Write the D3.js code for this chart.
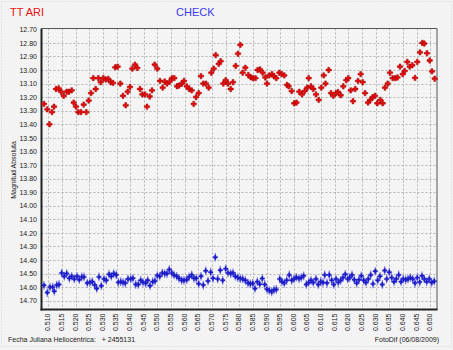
<!DOCTYPE html>
<html><head><meta charset="utf-8">
<script src="https://cdn.jsdelivr.net/npm/d3@7"></script>
<style>
html,body{margin:0;padding:0;background:#f3f3f3;}
svg{display:block;font-family:"Liberation Sans",Arial,sans-serif;}
</style></head><body>
<svg id="c" width="453" height="350"></svg>
<script>
// ---- data ----
const seriesNames = ["TT ARI", "CHECK"];
const yTicks = [12.70,12.80,12.90,13.00,13.10,13.20,13.30,13.40,13.50,13.60,13.70,13.80,13.90,14.00,14.10,14.20,14.30,14.40,14.50,14.60,14.70];
const xTicks = [0.510,0.515,0.520,0.525,0.530,0.535,0.540,0.545,0.550,0.555,0.560,0.565,0.570,0.575,0.580,0.585,0.590,0.595,0.600,0.605,0.610,0.615,0.620,0.625,0.630,0.635,0.640,0.645,0.650];

const redJD = [0.50842,0.50963,0.51044,0.51136,0.51209,0.51282,0.51381,0.51465,0.51564,0.51674,0.51759,0.51858,0.51931,0.52015,0.52099,0.52198,0.52297,0.52393,0.52481,0.52565,0.52649,0.52737,0.52832,0.52920,0.53016,0.53104,0.53199,0.53287,0.53371,0.53455,0.53543,0.53639,0.53738,0.53837,0.53910,0.53994,0.54078,0.54177,0.54262,0.54361,0.54445,0.54544,0.54617,0.54716,0.54800,0.54899,0.54995,0.55094,0.55193,0.55266,0.55350,0.55449,0.55533,0.55618,0.55717,0.55790,0.55889,0.55973,0.56072,0.56167,0.56255,0.56329,0.56413,0.56512,0.56596,0.56680,0.56779,0.56878,0.56974,0.57062,0.57135,0.57245,0.57318,0.57414,0.57501,0.57586,0.57685,0.57769,0.57868,0.57952,0.58037,0.58124,0.58220,0.58330,0.58418,0.58502,0.58594,0.58674,0.58758,0.58858,0.58953,0.59015,0.59099,0.59198,0.59272,0.59356,0.59466,0.59554,0.59649,0.59748,0.59810,0.59920,0.60015,0.60096,0.60199,0.60298,0.60397,0.60492,0.60543,0.60627,0.60712,0.60811,0.60910,0.61005,0.61093,0.61159,0.61276,0.61360,0.61445,0.61544,0.61617,0.61716,0.61811,0.61921,0.61995,0.62083,0.62167,0.62251,0.62350,0.62449,0.62522,0.62607,0.62717,0.62801,0.62889,0.62973,0.63057,0.63167,0.63255,0.63339,0.63438,0.63523,0.63622,0.63717,0.63798,0.63889,0.63988,0.64062,0.64157,0.64245,0.64340,0.64439,0.64523,0.64622,0.64707,0.64780,0.64879,0.64978,0.65062,0.65161];
const redMag = [13.25,13.29,13.40,13.31,13.27,13.14,13.135,13.16,13.19,13.16,13.16,13.15,13.24,13.27,13.31,13.31,13.255,13.31,13.225,13.17,13.06,13.14,13.06,13.09,13.06,13.07,13.065,13.09,13.095,12.98,12.975,13.10,13.19,13.26,13.16,13.125,12.99,12.96,12.985,13.14,13.18,13.18,13.27,13.195,13.15,12.96,12.99,13.08,13.13,13.085,13.10,13.085,13.06,13.06,13.12,13.115,13.10,13.08,13.12,13.14,13.15,13.25,13.20,13.17,13.045,13.10,13.10,13.13,13.02,12.99,12.89,12.955,12.935,13.10,13.075,13.10,13.14,13.09,12.97,12.88,12.815,13.02,12.983,13.037,13.054,13.06,13.06,13.00,12.995,13.02,13.055,13.10,13.04,13.03,13.046,13.06,13.02,13.03,13.04,13.11,13.12,13.155,13.245,13.24,13.16,13.18,13.155,13.13,13.06,13.12,13.14,13.18,13.22,13.13,13.04,13.10,13.00,13.17,13.19,13.17,13.162,13.186,13.12,13.075,13.06,13.15,13.23,13.14,13.08,13.03,13.09,13.17,13.24,13.22,13.20,13.19,13.245,13.22,13.245,13.13,13.10,13.02,13.06,13.06,13.055,12.975,13.03,13.007,12.94,12.975,12.965,13.058,12.94,12.87,12.80,12.805,12.876,12.93,13.01,13.064];

const blueJD = [0.50842,0.50963,0.51062,0.51161,0.51220,0.51308,0.51392,0.51491,0.51586,0.51674,0.51770,0.51858,0.51953,0.52052,0.52136,0.52224,0.52308,0.52429,0.52528,0.52613,0.52701,0.52774,0.52858,0.52942,0.53041,0.53126,0.53225,0.53309,0.53397,0.53492,0.53565,0.53653,0.53738,0.53822,0.53921,0.54020,0.54104,0.54203,0.54298,0.54386,0.54471,0.54570,0.54643,0.54727,0.54826,0.54910,0.54995,0.55083,0.55178,0.55266,0.55350,0.55435,0.55523,0.55607,0.55706,0.55790,0.55889,0.55973,0.56072,0.56157,0.56255,0.56340,0.56424,0.56512,0.56596,0.56680,0.56769,0.56853,0.56952,0.57036,0.57120,0.57208,0.57303,0.57391,0.57501,0.57586,0.57685,0.57769,0.57853,0.57945,0.58037,0.58124,0.58220,0.58319,0.58403,0.58491,0.58575,0.58660,0.58748,0.58843,0.58931,0.59015,0.59099,0.59187,0.59272,0.59356,0.59481,0.59565,0.59649,0.59737,0.59832,0.59920,0.60004,0.60089,0.60188,0.60272,0.60360,0.60455,0.60543,0.60627,0.60712,0.60811,0.60895,0.60983,0.61068,0.61130,0.61214,0.61298,0.61386,0.61460,0.61544,0.61628,0.61716,0.61801,0.61885,0.61973,0.62046,0.62130,0.62215,0.62303,0.62387,0.62471,0.62559,0.62643,0.62728,0.62816,0.62900,0.62984,0.63072,0.63157,0.63241,0.63329,0.63402,0.63497,0.63585,0.63670,0.63754,0.63842,0.63926,0.64010,0.64098,0.64183,0.64267,0.64355,0.64439,0.64523,0.64611,0.64696,0.64780,0.64868,0.64963,0.65051,0.65146];
const blueMag = [14.587,14.64,14.60,14.60,14.63,14.585,14.58,14.496,14.52,14.50,14.535,14.52,14.54,14.52,14.545,14.525,14.525,14.57,14.565,14.56,14.585,14.61,14.525,14.59,14.54,14.55,14.505,14.52,14.50,14.51,14.565,14.56,14.565,14.57,14.54,14.54,14.535,14.58,14.58,14.55,14.565,14.57,14.55,14.59,14.56,14.555,14.515,14.52,14.495,14.50,14.50,14.47,14.495,14.51,14.52,14.535,14.55,14.55,14.545,14.525,14.51,14.535,14.535,14.575,14.52,14.585,14.48,14.555,14.49,14.535,14.38,14.54,14.475,14.55,14.465,14.495,14.50,14.495,14.52,14.53,14.537,14.54,14.55,14.57,14.575,14.573,14.61,14.56,14.578,14.537,14.58,14.615,14.625,14.635,14.62,14.617,14.54,14.56,14.57,14.55,14.51,14.55,14.54,14.527,14.537,14.53,14.517,14.58,14.566,14.55,14.566,14.54,14.58,14.56,14.566,14.51,14.57,14.51,14.55,14.58,14.54,14.565,14.55,14.53,14.505,14.54,14.53,14.51,14.546,14.57,14.546,14.517,14.55,14.566,14.54,14.51,14.576,14.483,14.55,14.52,14.58,14.478,14.54,14.49,14.53,14.56,14.54,14.51,14.56,14.54,14.546,14.54,14.53,14.54,14.57,14.53,14.563,14.517,14.54,14.56,14.54,14.566,14.556];
const blueErr = 0.032;

const jdOffsetLabel = "Fecha Juliana Heliocéntrica:   + 2455131";
const creditLabel = "FotoDif (06/08/2009)";
const yAxisTitle = "Magnitud Absoluta";

// ---- layout ----
const svg = d3.select("#c");
const plotL = 41.5, plotR = 437, plotT = 28.5, plotB = 309.5;
const x = d3.scaleLinear().domain([0.510, 0.650]).range([48.3, 430.3]);
const y = d3.scaleLinear().domain([12.70, 14.70]).range([29.3, 300.7]);

// outer dotted frame
svg.append("rect").attr("x",1.5).attr("y",1.5).attr("width",450).attr("height",345)
  .attr("fill","none").attr("stroke","#d0d0d0").attr("stroke-dasharray","1,2");

// plot background
svg.append("rect").attr("x",plotL).attr("y",plotT).attr("width",plotR-plotL).attr("height",plotB-plotT)
  .attr("fill","#f4f4f4");

// grid
const grid = svg.append("g").attr("stroke","#b4b4b4").attr("stroke-width",1).attr("stroke-dasharray","2,2");
grid.selectAll(".hy").data(yTicks.slice(1)).join("line")
  .attr("x1",plotL).attr("x2",plotR)
  .attr("y1",d=>Math.round(y(d))+0.5).attr("y2",d=>Math.round(y(d))+0.5);
grid.selectAll(".vx").data(xTicks).join("line")
  .attr("y1",plotT).attr("y2",plotB)
  .attr("x1",d=>Math.round(x(d))+0.5).attr("x2",d=>Math.round(x(d))+0.5);

// frame: top/right thin, left/bottom thick
svg.append("line").attr("x1",plotL).attr("x2",plotR).attr("y1",plotT).attr("y2",plotT).attr("stroke","#555").attr("stroke-width",1);
svg.append("line").attr("x1",plotR).attr("x2",plotR).attr("y1",plotT).attr("y2",plotB).attr("stroke","#555").attr("stroke-width",1);
svg.append("line").attr("x1",plotL).attr("x2",plotL).attr("y1",plotT).attr("y2",plotB+1).attr("stroke","#222").attr("stroke-width",2);
svg.append("line").attr("x1",plotL-1).attr("x2",plotR+0.5).attr("y1",plotB).attr("y2",plotB).attr("stroke","#222").attr("stroke-width",2);

// y axis labels
const yAxis = d3.axisLeft(y).tickValues(yTicks).tickFormat(d3.format(".2f")).tickSize(0).tickPadding(4);
const gy = svg.append("g").attr("transform",`translate(${plotL-0.5},0)`).call(yAxis);
gy.select(".domain").remove();
gy.selectAll("text").attr("font-size","7px").attr("fill","#222").attr("font-family","Liberation Sans, Arial, sans-serif");

// x axis labels (rotated)
const xAxis = d3.axisBottom(x).tickValues(xTicks).tickFormat(d3.format(".3f")).tickSize(0);
const gx = svg.append("g").attr("transform",`translate(0,${plotB})`).call(xAxis);
gx.select(".domain").remove();
gx.selectAll("text").attr("font-size","7px").attr("fill","#222").attr("font-family","Liberation Sans, Arial, sans-serif")
  .attr("transform","rotate(-90)").attr("text-anchor","end").attr("x",-4).attr("y",-1).attr("dy","0.35em");

// titles
svg.append("text").attr("x",10).attr("y",16).attr("font-size","11px").attr("fill","#ee1111").text(seriesNames[0]);
svg.append("text").attr("x",176).attr("y",16).attr("font-size","11px").attr("fill","#3a3aee").text(seriesNames[1]);

svg.append("text").attr("transform","translate(16,170) rotate(-90)").attr("text-anchor","middle")
  .attr("font-size","7px").attr("fill","#222").text(yAxisTitle);
svg.append("text").attr("x",8).attr("y",342).attr("font-size","7px").attr("fill","#222").attr("xml:space","preserve").style("white-space","pre").text(jdOffsetLabel);
svg.append("text").attr("x",439).attr("y",342).attr("text-anchor","end").attr("font-size","7px").attr("fill","#222").text(creditLabel);

// marks
const redCross = d3.symbol().type(d3.symbolCross).size(16);
const blueCross = d3.symbol().type(d3.symbolCross).size(11);
const blue = blueJD.map((d,i)=>({jd:d, mag:blueMag[i]}));
const red = redJD.map((d,i)=>({jd:d, mag:redMag[i]}));

const gb = svg.append("g");
gb.selectAll("line").data(blue).join("line")
  .attr("x1",d=>x(d.jd)).attr("x2",d=>x(d.jd))
  .attr("y1",d=>y(d.mag-blueErr)).attr("y2",d=>y(d.mag+blueErr))
  .attr("stroke","#7070ee").attr("stroke-width",1.1);
gb.selectAll("path").data(blue).join("path")
  .attr("d",blueCross).attr("transform",d=>`translate(${x(d.jd)},${y(d.mag)})`)
  .attr("fill","#1818d0").attr("stroke","#2a2ac0").attr("stroke-width",0.4);

svg.append("g").selectAll("path").data(red).join("path")
  .attr("d",redCross).attr("transform",d=>`translate(${x(d.jd)},${y(d.mag)})`)
  .attr("fill","#e80a0a").attr("stroke","#a00000").attr("stroke-width",0.5);
</script>
</body></html>
